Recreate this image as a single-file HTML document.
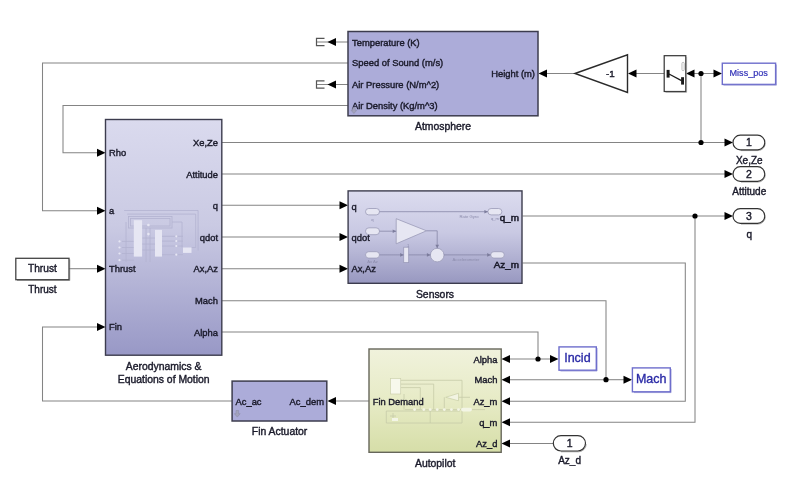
<!DOCTYPE html>
<html><head><meta charset="utf-8">
<style>
html,body{margin:0;padding:0;background:#fff;width:791px;height:495px;overflow:hidden}
svg{display:block;will-change:transform}
.bold text{stroke-width:0.55px}
.tiny text{fill:#8c8cac;stroke:none}
text{font-family:"Liberation Sans",sans-serif;fill:#1a1a2a;stroke:#1a1a2a;stroke-width:0.4px}
</style></head>
<body>
<svg width="791" height="495" viewBox="0 0 791 495">
<defs>
<linearGradient id="gAero" x1="0" y1="0" x2="0" y2="1">
<stop offset="0" stop-color="#dadaee"/><stop offset="0.45" stop-color="#cacae3"/><stop offset="1" stop-color="#9898c6"/>
</linearGradient>
<linearGradient id="gSens" x1="0" y1="0" x2="0" y2="1">
<stop offset="0" stop-color="#dcdcef"/><stop offset="0.45" stop-color="#c9c9e3"/><stop offset="1" stop-color="#9898c0"/>
</linearGradient>
<linearGradient id="gAuto" x1="0" y1="0" x2="0" y2="1">
<stop offset="0" stop-color="#f0f2dc"/><stop offset="0.5" stop-color="#e7ebc6"/><stop offset="1" stop-color="#d6dea8"/>
</linearGradient>
</defs>
<rect width="791" height="495" fill="#fff"/>

<!-- signal lines -->
<g fill="none" stroke="#848484" stroke-width="1.05">
<path d="M348 63H42.5V210.8H98"/>
<path d="M348 105.5H63V152.8H98"/>
<path d="M575 73.5H546"/>
<path d="M664 73.5H636"/>
<path d="M694 73.5H701V142.5"/>
<path d="M701 73.5H714"/>
<path d="M222 142.5H725"/>
<path d="M222 174H725"/>
<path d="M222 205.3H340"/>
<path d="M222 237H340"/>
<path d="M222 268.7H340"/>
<path d="M222 300.8H606V379.7H509.5"/>
<path d="M606 379.7H624"/>
<path d="M222 332H538V359H509.5"/>
<path d="M538 359H550.5"/>
<path d="M522.5 216H725"/>
<path d="M695 216V422.3H509.5"/>
<path d="M522.5 263H685.3V401.2H509.5"/>
<path d="M553 443.5H509.5"/>
<path d="M369 401H335.5"/>
<path d="M232 401H42.5V327H98"/>
<path d="M69 268.7H98"/>
<path d="M348 42H316.5"/>
<path d="M348 84.5H316.5"/>
</g>

<!-- arrows -->
<g fill="#000">
<!-- right-pointing -->
<path d="M105.5 152.8l-8.5-4v8z"/>
<path d="M105.5 210.8l-8.5-4v8z"/>
<path d="M105.5 268.7l-8.5-4v8z"/>
<path d="M105.5 327l-8.5-4v8z"/>
<path d="M348 205.3l-8.5-4v8z"/>
<path d="M348 237l-8.5-4v8z"/>
<path d="M348 268.7l-8.5-4v8z"/>
<path d="M733 142.5l-8.5-4v8z"/>
<path d="M733 174l-8.5-4v8z"/>
<path d="M733 216l-8.5-4v8z"/>
<path d="M722 73.5l-8.5-4v8z"/>
<path d="M558.5 359l-8.5-4v8z"/>
<path d="M632 379.7l-8.5-4v8z"/>
<!-- left-pointing -->
<path d="M538.5 73.5l8.5-4v8z"/>
<path d="M628 73.5l8.5-4v8z"/>
<path d="M686 73.5l8.5-4v8z"/>
<path d="M327.5 42l8.5-4v8z"/>
<path d="M327.5 84.5l8.5-4v8z"/>
<path d="M501.5 359l8.5-4v8z"/>
<path d="M501.5 379.7l8.5-4v8z"/>
<path d="M501.5 401.2l8.5-4v8z"/>
<path d="M501.5 422.3l8.5-4v8z"/>
<path d="M501.5 443.5l8.5-4v8z"/>
<path d="M327.5 401l8.5-4v8z"/>
<!-- junction dots -->
<circle cx="701" cy="73.5" r="2.6"/>
<circle cx="701" cy="142.5" r="2.6"/>
<circle cx="695" cy="216" r="2.6"/>
<circle cx="538" cy="359" r="2.6"/>
<circle cx="606" cy="379.7" r="2.6"/>
</g>

<!-- terminators -->
<g fill="none" stroke="#555" stroke-width="1.2">
<path d="M324.5 38.3H316.5V45.6H324.5"/>
<path d="M324.5 80.8H316.5V88.1H324.5"/>
</g>

<!-- Atmosphere -->
<rect x="348" y="31.5" width="190" height="84.3" fill="#acacd9" stroke="#3c3c4e" stroke-width="1.5"/>
<g font-size="9.4">
<text x="352" y="45.6">Temperature (K)</text>
<text x="352" y="66.4">Speed of Sound (m/s)</text>
<text x="352" y="88">Air Pressure (N/m^2)</text>
<text x="352" y="109">Air Density (Kg/m^3)</text>
<text x="535" y="77" text-anchor="end">Height (m)</text>
</g>
<path d="M352.6 107.5h2.6v2.8h1.6l-2.9 3.2-2.9-3.2h1.6z" fill="#a2a2bc" stroke="#8888a4" stroke-width="0.5"/>
<text x="443" y="129.8" font-size="10.4" text-anchor="middle">Atmosphere</text>

<!-- Gain -->
<path d="M575 73.5L627.5 54.8V92.5Z" fill="#fff" stroke="#2a2a2a" stroke-width="1.4"/>
<text x="610.3" y="77" font-size="9.8" text-anchor="middle">-1</text>

<!-- Switch -->
<rect x="664.2" y="55.7" width="21.6" height="35.8" fill="#fff" stroke="#333" stroke-width="1.2"/>
<g fill="#1a1a1a">
<rect x="666.6" y="69.9" width="3" height="7.7"/>
<rect x="681.1" y="77.2" width="2.9" height="7.4"/>
</g>
<path d="M669 74L681.5 80.6" stroke="#1a1a1a" stroke-width="1.2"/>
<rect x="681.9" y="62.3" width="2.4" height="8.4" rx="1.2" fill="#f4f4f4" stroke="#aaa" stroke-width="0.7"/>
<!-- Miss_pos goto -->
<rect x="722.3" y="63.2" width="53.3" height="21.2" fill="#fff" stroke="#6e6ecc" stroke-width="1.4"/>
<text x="748.7" y="76.1" font-size="9.1" text-anchor="middle" style="fill:#3232b8;stroke:#3232b8;stroke-width:0.2px">Miss_pos</text>

<!-- Outports -->
<g fill="none" stroke="#8a8a8a" stroke-width="1" opacity="0.7">
<path d="M741 150.6H758a7.3 7.3 0 0 0 7.3-7.3"/>
<path d="M741 182.1H758a7.3 7.3 0 0 0 7.3-7.3"/>
<path d="M741 224.1H758a7.3 7.3 0 0 0 7.3-7.3"/>
<path d="M561 451.8H578.5a7.7 7.7 0 0 0 7.7-7.7"/>
<path d="M17 280.5H69.8V259.5"/>
<path d="M665.5 92.3H686.6V57"/>
</g>
<g fill="none" stroke="#8a8ad0" stroke-width="1" opacity="0.7">
<path d="M723.5 85.2H776.4V64.5"/>
<path d="M560.5 371H597.1V348"/>
<path d="M634 392.6H671.1V369"/>
</g>
<g fill="#fff" stroke="#333" stroke-width="1.2">
<rect x="733" y="135.2" width="31.8" height="14.6" rx="7.3"/>
<rect x="733" y="166.7" width="31.8" height="14.6" rx="7.3"/>
<rect x="733" y="208.7" width="31.8" height="14.6" rx="7.3"/>
<rect x="553.3" y="435.6" width="32.2" height="15.4" rx="7.7"/>
</g>
<g font-size="10" text-anchor="middle">
<text x="749" y="146.3" font-size="10.5">1</text>
<text x="749" y="177.8" font-size="10.5">2</text>
<text x="749" y="219.8" font-size="10.5">3</text>
<text x="569.6" y="447.2" font-size="10.5">1</text>
<text x="749.3" y="164.3">Xe,Ze</text>
<text x="749.3" y="195">Attitude</text>
<text x="749.3" y="237.8">q</text>
<text x="569.6" y="463.8">Az_d</text>
</g>

<!-- Aerodynamics block -->
<rect x="105.5" y="119.5" width="116.3" height="235.7" fill="url(#gAero)" stroke="#3c3c4e" stroke-width="1.4"/>
<g font-size="9.4">
<text x="109" y="156">Rho</text>
<text x="109" y="213.8">a</text>
<text x="109" y="271.8">Thrust</text>
<text x="109" y="330">Fin</text>
<g text-anchor="end">
<text x="218" y="146">Xe,Ze</text>
<text x="218" y="177.5">Attitude</text>
<text x="218" y="208.8">q</text>
<text x="218" y="240.5">qdot</text>
<text x="218" y="272.2">Ax,Az</text>
<text x="218" y="304.3">Mach</text>
<text x="218" y="335.5">Alpha</text>
</g>
</g>
<!-- faint inner diagram -->
<g fill="none" stroke="#b2b2d0" stroke-width="0.8">
<path d="M124.1 210.5H198.1V250.5"/>
<path d="M127.2 214.1H195.7V247.5H191.5"/>
<rect x="128.4" y="216.5" width="43.6" height="11.5"/>
<rect x="130.4" y="218.5" width="39.6" height="7.5"/>
<path d="M122 241.4H134M122 247.5H134M122 253.5H134M122 260.2H134"/>
<path d="M142.1 238H155M142.1 244H155M142.1 250H155"/>
<path d="M162 236.3H183M162 241.1H183M162 246H183M162 254.7H183"/>
<path d="M146 228V262M150 228V262M126 222V262"/>
<path d="M172 222H182V247.5"/>
</g>
<g fill="#e6e6f3">
<rect x="133.8" y="220.2" width="8.3" height="36.4"/>
<rect x="155" y="229.9" width="7" height="26.7"/>
<rect x="183" y="247.5" width="8.5" height="5.4"/>
<circle cx="119.5" cy="241.4" r="1.1"/><circle cx="119.5" cy="247.5" r="1.1"/><circle cx="119.5" cy="253.5" r="1.1"/><circle cx="119.5" cy="260.2" r="1.1"/>
<circle cx="148.4" cy="225" r="1.3"/><circle cx="148.4" cy="234.1" r="1.3"/>
<circle cx="176.3" cy="236.3" r="1.1"/><circle cx="176.3" cy="241.1" r="1.1"/><circle cx="176.3" cy="246" r="1.1"/><circle cx="176.3" cy="254.7" r="1.1"/>
</g>
<text x="163.7" y="369.6" font-size="10.4" text-anchor="middle">Aerodynamics &amp;</text>
<text x="163.7" y="382.8" font-size="10.4" text-anchor="middle">Equations of Motion</text>

<!-- Thrust inport-like constant -->
<rect x="15.8" y="258.3" width="53.2" height="21.4" fill="#fff" stroke="#444" stroke-width="1.3"/>
<text x="42.4" y="271.6" font-size="10.2" text-anchor="middle">Thrust</text>
<text x="42.4" y="293" font-size="10" text-anchor="middle">Thrust</text>

<!-- Sensors -->
<rect x="348.1" y="190.9" width="173.9" height="92.4" fill="url(#gSens)" stroke="#3c3c4e" stroke-width="1.4"/>
<g fill="#e6e6f2" stroke="#9a9ab8" stroke-width="0.8">
<rect x="365.5" y="208.5" width="14" height="6.4" rx="3.2"/>
<rect x="365.5" y="227.8" width="14" height="6.9" rx="3.4"/>
<rect x="365.5" y="251.7" width="14" height="6.4" rx="3.2"/>
<rect x="487.9" y="208.5" width="14" height="6.4" rx="3.2"/>
<rect x="490.7" y="251.7" width="13.6" height="6.4" rx="3.2"/>
<path d="M396.2 218.7L426.5 230.8L396.2 243.8Z"/>
<rect x="403.7" y="247.2" width="5" height="15.4"/>
<circle cx="437.2" cy="255.1" r="6.8"/>
</g>
<g fill="none" stroke="#8888a8" stroke-width="0.8">
<path d="M379.5 211.7H487.9"/>
<path d="M379.5 231.2H396.2"/>
<path d="M426.5 230.8H437.2V248.3"/>
<path d="M379.5 254.9H403.7"/>
<path d="M408.7 254.9H430.4"/>
<path d="M444 254.9H490.7"/>
</g>
<g fill="#7c7c9c">
<path d="M396.2 231.2l-3.5-1.8v3.6z"/>
<path d="M437.2 248.3l-1.8-3.5h3.6z"/>
<path d="M403.7 254.9l-3.5-1.8v3.6z"/>
<path d="M430.4 254.9l-3.5-1.8v3.6z"/>
<path d="M487.9 211.7l-3.5-1.8v3.6z"/>
<path d="M490.7 254.9l-3.5-1.8v3.6z"/>
</g>
<g font-size="4.2" class="tiny">
<text x="372.5" y="220.5" text-anchor="middle">q</text>
<text x="372.5" y="262.5" text-anchor="middle">Ax Az</text>
<text x="469" y="217.8" text-anchor="middle">Rate Gyro</text>
<text x="495" y="220" text-anchor="middle">q_m</text>
<text x="466" y="261" text-anchor="middle">Accelerometer</text>
<text x="407" y="247">1</text>
</g>
<g font-size="9.4">
<text x="351.4" y="210">q</text>
<text x="351.6" y="240.8">qdot</text>
<text x="351.4" y="272">Ax,Az</text>
</g>
<g font-size="9.9" text-anchor="end" class="bold">
<text x="519" y="220.6">q_m</text>
<text x="519" y="267.8">Az_m</text>
</g>
<text x="435" y="297.5" font-size="10.4" text-anchor="middle">Sensors</text>

<!-- Fin Actuator -->
<rect x="232.1" y="381.1" width="94.7" height="39.9" fill="#acacd9" stroke="#3c3c4e" stroke-width="1.5"/>
<g font-size="9.4">
<text x="235.5" y="404.5">Ac_ac</text>
<text x="324" y="404.5" text-anchor="end">Ac_dem</text>
</g>
<path d="M236 410.5h2.6v3.2h1.6l-2.9 3.4-2.9-3.4h1.6z" fill="#a2a2bc" stroke="#8888a4" stroke-width="0.5"/>
<text x="279.6" y="435" font-size="10.4" text-anchor="middle">Fin Actuator</text>

<!-- Autopilot -->
<rect x="369" y="349" width="132.2" height="103.3" fill="url(#gAuto)" stroke="#66665a" stroke-width="1.4"/>
<g fill="none" stroke="#c6cba8" stroke-width="0.8">
<path d="M400.7 380.3H462V423H430.2V409.6"/>
<path d="M400.7 384.1H433.7V409.6"/>
<path d="M400.7 387.6H420.3V409.6"/>
<path d="M404 394V409.6"/>
<path d="M386.3 411H459.9"/>
<path d="M386.3 411V423H430.2"/>
<path d="M405 409.6H485"/>
<path d="M444.3 397.3V409.6"/>
<path d="M458.5 397.3H470"/>
<path d="M393 413V420M390 416H396"/>
</g>
<rect x="390.6" y="378.4" width="10.1" height="15.6" fill="#f7f8ec" stroke="#cdd2ae" stroke-width="0.7"/>
<path d="M445.7 397.3L458.5 393.3V400.8Z" fill="#f2f4e2" stroke="#c9cea6" stroke-width="0.7"/>
<g fill="#f3f5e6">
<circle cx="414.6" cy="409.6" r="1.4"/><circle cx="423.8" cy="409.6" r="1.4"/><circle cx="430.2" cy="409.6" r="1.4"/><circle cx="437.2" cy="409.6" r="1.4"/><circle cx="444.3" cy="409.6" r="1.4"/><circle cx="451.4" cy="409.6" r="1.4"/><circle cx="458.5" cy="409.6" r="1.4"/>
<rect x="461" y="407.8" width="11" height="3.6" rx="1.8"/>
<rect x="392" y="418" width="6" height="3"/>
</g>
<g font-size="9.4" text-anchor="end">
<text x="497.4" y="362.5">Alpha</text>
<text x="497.4" y="383.2">Mach</text>
<text x="497.4" y="404.5">Az_m</text>
<text x="497.4" y="425.7">q_m</text>
<text x="497.4" y="447">Az_d</text>
</g>
<text x="372.7" y="405" font-size="9.4">Fin Demand</text>
<text x="435.2" y="466.5" font-size="10.4" text-anchor="middle">Autopilot</text>

<!-- Goto blocks -->
<rect x="559" y="346.9" width="37.3" height="23.3" fill="#fff" stroke="#6e6ecc" stroke-width="1.4"/>
<text x="577.4" y="362" font-size="12.5" text-anchor="middle" style="fill:#2a2aa6;stroke:#2a2aa6;stroke-width:0.35px">Incid</text>
<rect x="632.4" y="367.9" width="37.9" height="23.9" fill="#fff" stroke="#6e6ecc" stroke-width="1.4"/>
<text x="651.2" y="383.2" font-size="12.5" text-anchor="middle" style="fill:#2a2aa6;stroke:#2a2aa6;stroke-width:0.35px">Mach</text>

</svg>
</body></html>
